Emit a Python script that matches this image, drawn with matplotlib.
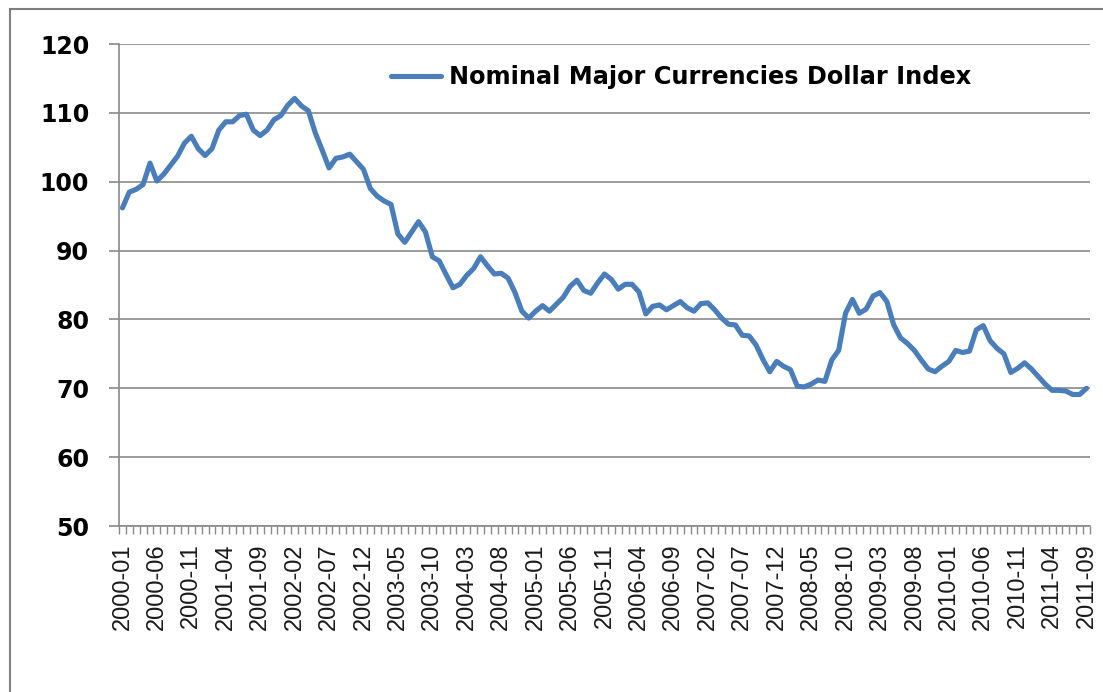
import matplotlib
matplotlib.use("Agg")
import matplotlib.pyplot as plt
from matplotlib.lines import Line2D
import numpy as np

# Monthly dates 2000-01 .. 2011-09
years = list(range(2000, 2012))
months = [f"{y}-{m:02d}" for y in years for m in range(1, 13)]
months = months[:months.index("2011-09") + 1]

index_values = [
    96.2, 98.5, 98.9, 99.6, 102.7, 100.1, 101.1, 102.4, 103.7, 105.6,
    106.6, 104.8, 103.8, 104.8, 107.5, 108.7, 108.7, 109.6, 109.8, 107.5,
    106.7, 107.5, 109.0, 109.6, 111.1, 112.1, 111.0, 110.3, 107.1, 104.6,
    102.0, 103.4, 103.6, 104.0, 102.9, 101.8, 99.0, 97.9, 97.2, 96.7,
    92.4, 91.2, 92.7, 94.2, 92.7, 89.1, 88.5, 86.5, 84.6, 85.1,
    86.4, 87.4, 89.1, 87.8, 86.6, 86.7, 86.0, 83.9, 81.2, 80.2,
    81.2, 82.0, 81.2, 82.2, 83.2, 84.8, 85.7, 84.2, 83.8, 85.3,
    86.6, 85.8, 84.4, 85.1, 85.1, 84.0, 80.8, 81.9, 82.1, 81.4,
    82.0, 82.6, 81.7, 81.2, 82.3, 82.4, 81.4, 80.2, 79.3, 79.2,
    77.7, 77.6, 76.3, 74.2, 72.4, 73.9, 73.2, 72.7, 70.3, 70.2,
    70.6, 71.2, 71.0, 74.1, 75.5, 80.9, 82.9, 80.9, 81.5, 83.4,
    83.9, 82.6, 79.2, 77.3, 76.5, 75.5, 74.1, 72.8, 72.4, 73.2,
    73.9, 75.5, 75.2, 75.4, 78.5, 79.1, 76.9, 75.8, 75.0, 72.3,
    72.9, 73.7, 72.8, 71.7, 70.6, 69.7, 69.7, 69.6, 69.1, 69.1,
    70.0,
]
series_name = "Nominal Major Currencies Dollar Index"
y_ticks = [50, 60, 70, 80, 90, 100, 110, 120]

W, H = 1103, 692
fig = plt.figure(figsize=(W / 100, H / 100), dpi=100)
ax = fig.add_axes([119 / W, 1 - 526 / H, 971 / W, 482 / H])

grey = "#8a8a8a"
blue = "#4a7ebb"

x = np.arange(len(months))
ax.plot(x, index_values, color=blue, lw=3.7, solid_joinstyle="round",
        solid_capstyle="round", label=series_name, zorder=3)

ax.set_xlim(-0.5, len(months) - 0.5)
ax.set_ylim(50, 120)
ax.set_yticks(y_ticks)
ax.set_yticklabels([str(v) for v in y_ticks], fontfamily="DejaVu Sans",
                   fontweight="bold", fontsize=17)
ax.yaxis.grid(True, color=grey, lw=1.2)
ax.set_axisbelow(True)
ax.tick_params(axis="y", length=7.5, width=1.2, color=grey, pad=14)

lab_idx = list(range(0, len(months), 5))
ax.set_xticks(lab_idx)
ax.set_xticklabels([months[i] for i in lab_idx], rotation=90,
                   fontfamily="Liberation Sans", fontsize=17, va="top", ha="center",
                   color="#1a1a1a")
ax.set_xticks(np.arange(-0.5, len(months), 1.0), minor=True)
ax.tick_params(axis="x", which="major", length=0, pad=12.5)
ax.tick_params(axis="x", which="minor", length=6, width=1.0, color=grey)

for s in ["top", "right"]:
    ax.spines[s].set_visible(False)
for s in ["left", "bottom"]:
    ax.spines[s].set_color(grey)
    ax.spines[s].set_linewidth(1.2)

leg = ax.legend(loc="center left", bbox_to_anchor=(391 / W, 1 - 77 / H),
                bbox_transform=fig.transFigure, frameon=False, borderpad=0,
                borderaxespad=0, handlelength=2.1, handletextpad=0.33,
                prop={"family": "DejaVu Sans", "weight": "bold", "size": 17.3})

# outer chart border
fig.add_artist(Line2D([10 / W, 1.0], [1 - 9 / H, 1 - 9 / H], color="#7f7f7f", lw=1.5,
                      transform=fig.transFigure))
fig.add_artist(Line2D([10 / W, 10 / W], [0, 1 - 9 / H], color="#7f7f7f", lw=1.5,
                      transform=fig.transFigure))

fig.savefig("out.png", dpi=100)
